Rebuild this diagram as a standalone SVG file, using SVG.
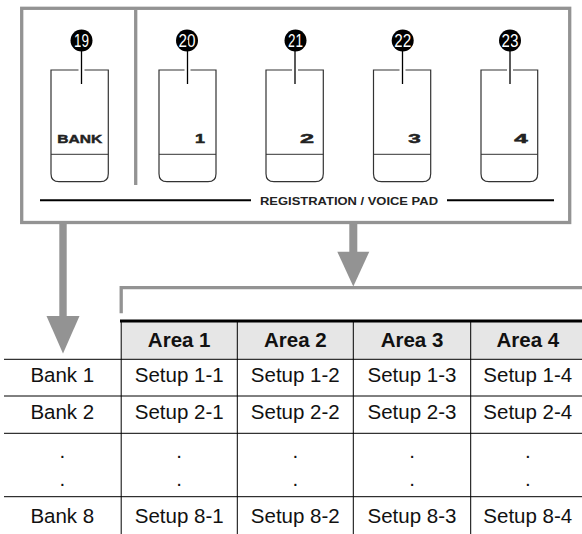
<svg xmlns="http://www.w3.org/2000/svg" width="582" height="534" viewBox="0 0 582 534">
<style>
.gray{fill:none;stroke:#939393;stroke-width:3.3}
.btn{fill:#fff;stroke:#333;stroke-width:1.2}
.div{stroke:#333;stroke-width:1}
.lead{stroke:#000;stroke-width:1.3}
.num{font-family:"Liberation Sans",Arial,sans-serif;font-size:18px;fill:#fff;text-anchor:middle}
.key{font-family:"Liberation Sans",Arial,sans-serif;font-weight:bold;font-size:12px;fill:#222;stroke:#222;stroke-width:0.5;text-anchor:end}
.lbl{font-family:"Liberation Sans",Arial,sans-serif;font-weight:bold;font-size:10.5px;fill:#222}
.bank{stroke:#222;stroke-width:0.4}
.cell{font-family:"Liberation Sans",Arial,sans-serif;font-size:20.5px;fill:#111;text-anchor:middle}
.hdr{font-family:"Liberation Sans",Arial,sans-serif;font-weight:bold;font-size:20.5px;fill:#111;text-anchor:middle}
.tl{stroke:#000;stroke-width:1}
.arrow{fill:#939393}
</style>
<g id="panel">
<rect class="gray" x="21.7" y="8.3" width="548" height="214.2"/>
<line class="gray" x1="135.7" y1="10" x2="135.7" y2="185"/>
<line stroke="#000" stroke-width="2" x1="40" y1="200.3" x2="251" y2="200.3"/>
<line stroke="#000" stroke-width="2" x1="447" y1="200.3" x2="554" y2="200.3"/>
<text class="lbl" x="260" y="204.5" textLength="178" lengthAdjust="spacingAndGlyphs">REGISTRATION / VOICE PAD</text>
</g>
<g id="btn19">
<path class="btn" d="M51,70 H108.3 V173.7 Q108.3,181.7 100.3,181.7 H59 Q51,181.7 51,173.7 Z"/>
<line class="div" x1="51" y1="154.3" x2="108.3" y2="154.3"/>
<rect x="78.5" y="68" width="6" height="4" fill="#fff"/>
<circle cx="81.5" cy="40.5" r="11" fill="#000"/>
<text class="num" x="81.5" y="47" textLength="15" lengthAdjust="spacingAndGlyphs">19</text>
<line class="lead" x1="81.5" y1="40" x2="81.5" y2="84"/>
<text class="lbl bank" x="57.3" y="143.3" textLength="45" lengthAdjust="spacingAndGlyphs">BANK</text>
</g>
<g id="btn20">
<path class="btn" d="M159,70 H216 V173.7 Q216,181.7 208,181.7 H167 Q159,181.7 159,173.7 Z"/>
<line class="div" x1="159" y1="154.3" x2="216" y2="154.3"/>
<rect x="184.5" y="68" width="6" height="4" fill="#fff"/>
<circle cx="187" cy="40.5" r="11" fill="#000"/>
<text class="num" x="187" y="47" textLength="17" lengthAdjust="spacingAndGlyphs">20</text>
<line class="lead" x1="187.5" y1="40" x2="187.5" y2="84"/>
<text class="key" x="205" y="143.3" textLength="10" lengthAdjust="spacingAndGlyphs">1</text>
</g>
<g id="btn21">
<path class="btn" d="M266,70 H323.3 V173.7 Q323.3,181.7 315.3,181.7 H274 Q266,181.7 266,173.7 Z"/>
<line class="div" x1="266" y1="154.3" x2="323.3" y2="154.3"/>
<rect x="292" y="68" width="6" height="4" fill="#fff"/>
<circle cx="295.5" cy="40.5" r="11" fill="#000"/>
<text class="num" x="295.5" y="47" textLength="15" lengthAdjust="spacingAndGlyphs">21</text>
<line class="lead" x1="295" y1="40" x2="295" y2="84"/>
<text class="key" x="314" y="143.3" textLength="14" lengthAdjust="spacingAndGlyphs">2</text>
</g>
<g id="btn22">
<path class="btn" d="M373.5,70 H430.7 V173.7 Q430.7,181.7 422.7,181.7 H381.5 Q373.5,181.7 373.5,173.7 Z"/>
<line class="div" x1="373.5" y1="154.3" x2="430.7" y2="154.3"/>
<rect x="399.5" y="68" width="6" height="4" fill="#fff"/>
<circle cx="402.7" cy="40.5" r="11" fill="#000"/>
<text class="num" x="402.7" y="47" textLength="17" lengthAdjust="spacingAndGlyphs">22</text>
<line class="lead" x1="402.5" y1="40" x2="402.5" y2="84"/>
<text class="key" x="420.7" y="143.3" textLength="12.5" lengthAdjust="spacingAndGlyphs">3</text>
</g>
<g id="btn23">
<path class="btn" d="M481,70 H537.7 V173.7 Q537.7,181.7 529.7,181.7 H489 Q481,181.7 481,173.7 Z"/>
<line class="div" x1="481" y1="154.3" x2="537.7" y2="154.3"/>
<rect x="507" y="68" width="6" height="4" fill="#fff"/>
<circle cx="510" cy="40.5" r="11" fill="#000"/>
<text class="num" x="510" y="47" textLength="17" lengthAdjust="spacingAndGlyphs">23</text>
<line class="lead" x1="510" y1="40" x2="510" y2="84"/>
<text class="key" x="527.7" y="143.3" textLength="13.5" lengthAdjust="spacingAndGlyphs">4</text>
</g>
<g id="connectors">
<rect class="arrow" x="59.3" y="222" width="7.4" height="95"/>
<polygon class="arrow" points="46.5,316 79.5,316 63,353.5"/>
<rect class="arrow" x="349.3" y="222" width="8" height="31"/>
<polygon class="arrow" points="337.3,251.7 369.3,251.7 353.3,286.5"/>
<polyline class="gray" points="121.2,313.3 121.2,287.7 582,287.7"/>
</g>
<g id="table">
<rect x="121" y="321" width="461" height="38" fill="#e6e6e6"/>
<line stroke="#000" stroke-width="3" x1="120" y1="321" x2="582" y2="321"/>
<line class="tl" x1="4" y1="359.3" x2="582" y2="359.3"/>
<line class="tl" x1="4" y1="396" x2="582" y2="396"/>
<line class="tl" x1="4" y1="433.3" x2="582" y2="433.3"/>
<line class="tl" x1="4" y1="496.7" x2="582" y2="496.7"/>
<line class="tl" x1="121.2" y1="322" x2="121.2" y2="534"/>
<line class="tl" x1="237.3" y1="322" x2="237.3" y2="534"/>
<line class="tl" x1="353.3" y1="322" x2="353.3" y2="534"/>
<line class="tl" x1="470.7" y1="322" x2="470.7" y2="534"/>
<text class="hdr" x="179.2" y="347">Area 1</text>
<text class="hdr" x="295.3" y="347">Area 2</text>
<text class="hdr" x="412" y="347">Area 3</text>
<text class="hdr" x="527.8" y="347">Area 4</text>
<text class="cell" x="62.3" y="382">Bank 1</text>
<text class="cell" x="179.2" y="382">Setup 1-1</text>
<text class="cell" x="295.3" y="382">Setup 1-2</text>
<text class="cell" x="412" y="382">Setup 1-3</text>
<text class="cell" x="527.8" y="382">Setup 1-4</text>
<text class="cell" x="62.3" y="419.3">Bank 2</text>
<text class="cell" x="179.2" y="419.3">Setup 2-1</text>
<text class="cell" x="295.3" y="419.3">Setup 2-2</text>
<text class="cell" x="412" y="419.3">Setup 2-3</text>
<text class="cell" x="527.8" y="419.3">Setup 2-4</text>
<text class="cell" x="62.3" y="457.5">.</text>
<text class="cell" x="179.2" y="457.5">.</text>
<text class="cell" x="295.3" y="457.5">.</text>
<text class="cell" x="412" y="457.5">.</text>
<text class="cell" x="527.8" y="457.5">.</text>
<text class="cell" x="62.3" y="486">.</text>
<text class="cell" x="179.2" y="486">.</text>
<text class="cell" x="295.3" y="486">.</text>
<text class="cell" x="412" y="486">.</text>
<text class="cell" x="527.8" y="486">.</text>
<text class="cell" x="62.3" y="522.7">Bank 8</text>
<text class="cell" x="179.2" y="522.7">Setup 8-1</text>
<text class="cell" x="295.3" y="522.7">Setup 8-2</text>
<text class="cell" x="412" y="522.7">Setup 8-3</text>
<text class="cell" x="527.8" y="522.7">Setup 8-4</text>
</g>
</svg>
